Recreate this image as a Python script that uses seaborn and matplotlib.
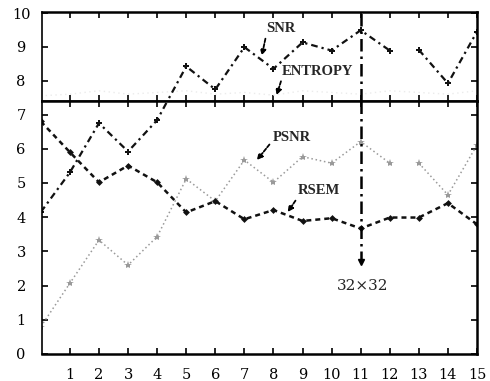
import matplotlib
matplotlib.use("Agg")
import matplotlib.pyplot as plt
import seaborn as sns
import pandas as pd

# ---- data ----
x_vals = [0, 1, 2, 3, 4, 5, 6, 7, 8, 9, 10, 11, 12, 13, 14, 15]
snr = [4.15, 5.31, 6.75, 5.92, 6.84, 8.42, 7.74, 8.99, 8.35, 9.13, 8.89, 9.49, 8.89, 8.91, 7.92, 9.45]
rsem = [6.80, 5.90, 5.02, 5.51, 5.02, 4.14, 4.47, 3.94, 4.21, 3.89, 3.97, 3.67, 3.99, 3.99, 4.41, 3.79]
psnr = [0.80, 2.07, 3.33, 2.60, 3.43, 5.12, 4.47, 5.67, 5.02, 5.77, 5.58, 6.21, 5.58, 5.58, 4.65, 6.11]
entropy = [7.55, 7.60, 7.70, 7.60, 7.65, 7.70, 7.60, 7.65, 7.57, 7.70, 7.65, 7.60, 7.70, 7.65, 7.60, 7.70]
xtick_labels = [str(i) for i in range(1, 16)]
top_yticks = [8, 9, 10]
bottom_yticks = [0, 1, 2, 3, 4, 5, 6, 7]
break_level = 7.4
marker_x = 11
marker_bottom = 2.6

sns.set_theme(style="ticks")
plt.rcParams['font.family'] = ['Liberation Serif', 'DejaVu Sans']

fig, (ax_top, ax_bot) = plt.subplots(
    2, 1, figsize=(4.9, 3.81), dpi=100, sharex=True,
    gridspec_kw=dict(height_ratios=[2.6, 7.4], hspace=0))
fig.subplots_adjust(left=0.0857, right=0.9735, bottom=0.0709, top=0.9685)

df = pd.DataFrame(dict(x=x_vals, snr=snr, rsem=rsem, psnr=psnr, entropy=entropy))
seg1 = df[df.x <= 12]
seg2 = df[df.x >= 13]

styles = {
    'entropy': dict(color='#ebebeb', linestyle=(0, (1, 2.5)), lw=1.0, marker=None),
    'psnr': dict(color='#9a9a9a', linestyle=(0, (1, 1.8)), lw=1.1, marker='*', ms=6),
    'rsem': dict(color='#111111', linestyle=(0, (2, 1.6)), lw=1.8, marker='D', ms=3.5),
    'snr': dict(color='#111111', linestyle=(0, (3, 1.8, 1, 1.8)), lw=1.6, marker='P', ms=4),
}

tick_font = dict(family='DejaVu Serif', size=10.5)

for ax in (ax_top, ax_bot):
    for name, st in styles.items():
        parts = [df] if name in ('rsem', 'entropy') else [seg1, seg2]
        for part in parts:
            sns.lineplot(data=part, x='x', y=name, ax=ax, color=st['color'],
                         linestyle=st['linestyle'], lw=st['lw'],
                         marker=st['marker'], markersize=st.get('ms', 0),
                         markeredgewidth=0, legend=False)
    ax.set_xlim(0.04, 15.0)
    ax.set_xlabel('')
    ax.set_ylabel('')
    for s in ax.spines.values():
        s.set_visible(True)
        s.set_linewidth(1.8)
        s.set_color('black')
    ax.spines['left'].set_linewidth(1.2)
    ax.tick_params(direction='in', top=True, right=True, length=4, width=1.2,
                   colors='black')
    ax.tick_params(axis='y', pad=15)

ax_top.set_ylim(break_level, 10.03)
ax_top.set_yticks(top_yticks)
ax_bot.set_ylim(0, break_level)
ax_bot.set_yticks(bottom_yticks)
ax_bot.set_xticks(range(1, 16))
ax_bot.set_xticklabels(xtick_labels)
ax_top.tick_params(labelbottom=False)
ax_bot.tick_params(axis='x', pad=10)

for ax in (ax_top, ax_bot):
    for lab in ax.get_yticklabels():
        lab.set_fontproperties(tick_font)
        lab.set_ha('center')
for lab in ax_bot.get_xticklabels():
    lab.set_fontproperties(tick_font)

# vertical dash-dot marker line at x = 11
ax_top.axvline(marker_x, color='black', lw=1.8, linestyle=(0, (5, 2, 1, 2)))
ax_bot.plot([marker_x, marker_x], [break_level, marker_bottom + 0.1], color='black',
            lw=1.8, linestyle=(0, (5, 2, 1, 2)))
ax_bot.plot([marker_x], [marker_bottom + 0.1], marker='v', color='black', ms=5)
ax_bot.text(marker_x + 0.07, 1.99, '32×32', ha='center', va='center',
            family='DejaVu Serif', fontsize=11)

arrow = dict(arrowstyle='-|>', color='black', lw=1.3, mutation_scale=8,
             linestyle=(0, (2, 1)), shrinkA=0, shrinkB=0)
ax_top.annotate('SNR', xy=(7.6, 8.74), xytext=(8.25, 9.53), ha='center', va='center',
                fontsize=10.5, fontweight='bold', arrowprops=dict(arrow, relpos=(0, 0)))
ax_top.annotate('ENTROPY', xy=(8.11, 7.57), xytext=(9.52, 8.27), ha='center', va='center',
                fontsize=10.5, fontweight='bold', arrowprops=dict(arrow, relpos=(0, 0)))
ax_bot.annotate('PSNR', xy=(7.43, 5.67), xytext=(8.63, 6.32), ha='center', va='center',
                fontsize=10.5, fontweight='bold', arrowprops=dict(arrow, relpos=(0, 0.3)))
ax_bot.annotate('RSEM', xy=(8.49, 4.15), xytext=(9.56, 4.77), ha='center', va='center',
                fontsize=10.5, fontweight='bold', arrowprops=dict(arrow, relpos=(0, 0)))

fig.savefig('out.png', dpi=100)
